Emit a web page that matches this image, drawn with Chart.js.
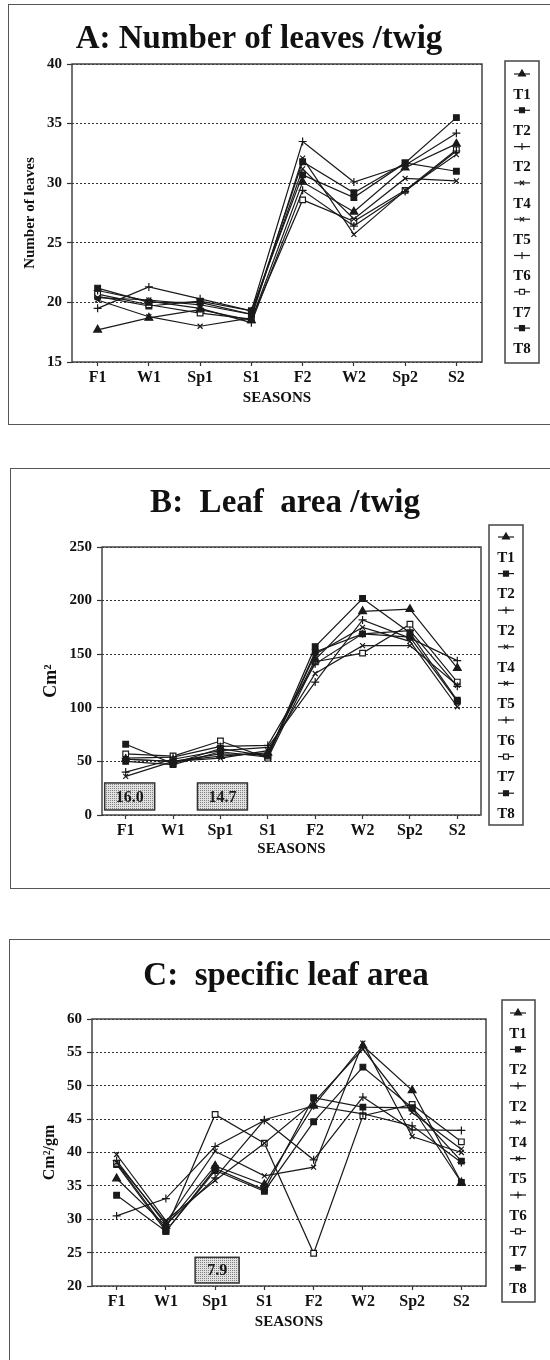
<!DOCTYPE html>
<html>
<head>
<meta charset="utf-8">
<script src="https://cdn.jsdelivr.net/npm/chart.js"></script>
<style>
  html, body { margin: 0; padding: 0; background: #fff; overflow: hidden; }
  body { width: 550px; height: 1360px; position: relative; }
  canvas { position: absolute; left: 0; }
  .frame { position: absolute; border: 1.5px solid #555; }
</style>
</head>
<body>
<div class="frame" style="left:8px; top:4px; width:620px; height:419px;"></div>
<div class="frame" style="left:10px; top:468px; width:620px; height:419px;"></div>
<div class="frame" style="left:9px; top:939px; width:620px; height:500px;"></div>
<canvas id="chartA" width="550" height="440" style="top:0px"></canvas>
<canvas id="chartB" width="550" height="460" style="top:440px"></canvas>
<canvas id="chartC" width="550" height="460" style="top:900px"></canvas>
<script>
// seasons and treatment labels (legend repeats T2, as in the figure)
const seasons = ['F1', 'W1', 'Sp1', 'S1', 'F2', 'W2', 'Sp2', 'S2'];
const treatments = ['T1', 'T2', 'T2', 'T4', 'T5', 'T6', 'T7', 'T8'];

// A: number of leaves per twig, one row per treatment
const leafCount = [
  [17.7, 18.7, 19.4, 18.5, 30.1, 27.6, 31.3, 33.3],
  [21.2, 20.0, 20.0, 19.0, 31.8, 29.2, 31.7, 35.5],
  [19.5, 21.3, 20.3, 19.3, 33.5, 30.1, 31.5, 34.2],
  [20.2, 18.8, 18.0, 18.7, 32.1, 25.7, 29.4, 32.4],
  [20.4, 20.2, 19.8, 19.0, 31.2, 27.0, 30.4, 30.2],
  [21.0, 20.1, 19.5, 18.3, 29.4, 26.4, 29.3, 32.7],
  [20.7, 19.8, 19.1, 18.6, 28.6, 26.8, 29.4, 32.8],
  [20.5, 19.7, 20.1, 19.3, 30.7, 28.8, 31.7, 31.0]
];

// B: leaf area per twig (cm2)
const leafArea = [
  [52, 50, 55, 58, 145, 190, 192, 137],
  [66, 48, 62, 55, 157, 202, 170, 107],
  [40, 52, 60, 63, 124, 182, 165, 144],
  [36, 50, 53, 60, 132, 158, 158, 121],
  [52, 50, 57, 56, 150, 175, 162, 101],
  [53, 54, 64, 65, 141, 169, 172, 120],
  [57, 55, 69, 53, 143, 151, 178, 124],
  [50, 47, 59, 54, 152, 169, 166, 106]
];

// C: specific leaf area (cm2/gm)
const sla = [
  [36.1, 29.0, 38.0, 35.2, 47.0, 56.0, 49.3, 35.5],
  [33.6, 28.2, 37.3, 34.2, 44.6, 52.8, 46.7, 38.7],
  [30.5, 33.1, 40.9, 44.8, 38.9, 48.3, 43.4, 43.3],
  [39.7, 29.8, 35.8, 41.4, 47.5, 55.5, 46.0, 40.5],
  [38.5, 29.5, 40.2, 36.5, 37.8, 56.4, 42.4, 40.0],
  [38.8, 29.2, 36.2, 44.9, 47.0, 45.8, 44.0, 38.5],
  [38.4, 28.5, 45.7, 41.4, 24.9, 45.5, 47.2, 41.6],
  [38.2, 28.2, 37.6, 34.4, 48.2, 46.8, 46.7, 35.5]
];

// LSD labels in the boxes
const lsdArea = ['16.0', '14.7'];
const lsdSla = ['7.9'];

const SERIF = '"Liberation Serif", "Times New Roman", serif';
const INK = '#1a1a1a';

const markers = [
  { style: 'triangle', r: 4.5, fill: INK },
  { style: 'rect', r: 4, fill: INK },
  { style: 'cross', r: 4, fill: INK },
  { style: 'crossRot', r: 3.5, fill: INK },
  { style: 'crossRot', r: 3.5, fill: INK },
  { style: 'cross', r: 4, fill: INK },
  { style: 'rect', r: 4, fill: '#fff' },
  { style: 'rect', r: 4, fill: INK }
];

function stipple(ctx) {
  const c = document.createElement('canvas');
  c.width = 2; c.height = 2;
  const p = c.getContext('2d');
  p.fillStyle = '#e2e2e2';
  p.fillRect(0, 0, 2, 2);
  p.fillStyle = '#808080';
  p.fillRect(0, 0, 1, 1);
  return ctx.createPattern(c, 'repeat');
}

function drawMarker(ctx, m, x, y) {
  ctx.save();
  ctx.fillStyle = m.fill;
  ctx.strokeStyle = INK;
  ctx.lineWidth = 1.2;
  if (Chart.helpers && Chart.helpers.drawPoint) {
    Chart.helpers.drawPoint(ctx, { pointStyle: m.style, radius: m.r - 0.5, rotation: 0, borderWidth: 1.2 }, x, y);
  } else {
    ctx.beginPath();
    ctx.rect(x - m.r, y - m.r, m.r * 2, m.r * 2);
    ctx.fill(); ctx.stroke();
  }
  ctx.restore();
}

// draws plot frame, LSD boxes, the big title and the boxed legend
const panelPlugin = {
  id: 'panel',
  afterDatasetsDraw(chart, args, o) {
    const ctx = chart.ctx;
    const ca = chart.chartArea;
    const xs = chart.scales.x, ys = chart.scales.y;
    ctx.save();
    ctx.strokeStyle = '#444';
    ctx.lineWidth = 1.5;
    ctx.strokeRect(ca.left, ca.top, ca.right - ca.left, ca.bottom - ca.top);

    (o.notes || []).forEach(n => {
      const cx = xs.getPixelForValue(n.at) + n.shift;
      const y1 = ys.getPixelForValue(n.to), y2 = ys.getPixelForValue(n.from);
      ctx.fillStyle = stipple(ctx);
      ctx.fillRect(cx - n.w / 2, y1, n.w, y2 - y1);
      ctx.strokeStyle = '#333';
      ctx.lineWidth = 1.5;
      ctx.strokeRect(cx - n.w / 2, y1, n.w, y2 - y1);
      ctx.fillStyle = INK;
      ctx.font = 'bold 16px ' + SERIF;
      ctx.textAlign = 'center';
      ctx.textBaseline = 'middle';
      ctx.fillText(n.text, cx, (y1 + y2) / 2 + 1);
    });
    ctx.restore();
  },
  afterDraw(chart, args, o) {
    const ctx = chart.ctx;
    ctx.save();
    ctx.fillStyle = '#111';
    ctx.font = 'bold 33px ' + SERIF;
    ctx.textAlign = 'center';
    ctx.textBaseline = 'alphabetic';
    ctx.fillText(o.title, o.titleX, o.titleY);

    const lb = o.legend;
    ctx.strokeStyle = '#444';
    ctx.lineWidth = 1.5;
    ctx.strokeRect(lb.x1, lb.y1, lb.x2 - lb.x1, lb.y2 - lb.y1);
    ctx.font = 'bold 15px ' + SERIF;
    ctx.textBaseline = 'middle';
    chart.data.datasets.forEach((ds, i) => {
      const y = lb.y0 + i * lb.step;
      ctx.strokeStyle = INK;
      ctx.lineWidth = 1.2;
      ctx.beginPath();
      ctx.moveTo(lb.cx - 8, y);
      ctx.lineTo(lb.cx + 8, y);
      ctx.stroke();
      drawMarker(ctx, markers[i], lb.cx, y);
      ctx.fillStyle = '#111';
      ctx.fillText(ds.label, lb.cx, y + 21);
    });
    ctx.restore();
  }
};

function makeDatasets(rows) {
  return rows.map((vals, i) => ({
    label: treatments[i],
    data: vals,
    borderColor: INK,
    borderWidth: 1.2,
    tension: 0,
    pointStyle: markers[i].style,
    pointRadius: markers[i].r,
    pointBorderWidth: 1.2,
    pointBorderColor: INK,
    pointBackgroundColor: markers[i].fill
  }));
}

function makeChart(id, rows, cfg) {
  return new Chart(document.getElementById(id), {
    type: 'line',
    data: { labels: seasons, datasets: makeDatasets(rows) },
    plugins: [panelPlugin],
    options: {
      responsive: false,
      animation: false,
      layout: { padding: cfg.padding },
      plugins: {
        legend: { display: false },
        tooltip: { enabled: false },
        panel: cfg.panel
      },
      scales: {
        x: {
          offset: true,
          afterFit: s => { s.height = cfg.xHeight; },
          border: { display: false },
          grid: { drawOnChartArea: false, drawTicks: true, tickLength: 4, tickColor: '#333', tickWidth: 1.2 },
          ticks: { color: '#111', padding: 2, maxRotation: 0, font: { family: SERIF, size: 16, weight: 'bold' } },
          title: { display: true, text: 'SEASONS', color: '#111', padding: 0, font: { family: SERIF, size: 15, weight: 'bold' } }
        },
        y: {
          min: cfg.min, max: cfg.max,
          afterFit: s => { s.width = cfg.yWidth; },
          border: { display: false, dash: [2, 2] },
          grid: { color: '#333', lineWidth: 1, tickLength: 5, tickColor: '#333', tickWidth: 1.2 },
          ticks: { stepSize: cfg.step, color: '#111', padding: 5, font: { family: SERIF, size: 15, weight: 'bold' } },
          title: { display: true, text: cfg.yTitle, color: '#111', padding: 0, font: { family: SERIF, size: cfg.yTitleSize, weight: 'bold' } }
        }
      }
    }
  });
}

makeChart('chartA', leafCount, {
  min: 15, max: 40, step: 5,
  yTitle: 'Number of leaves', yTitleSize: 15,
  padding: { left: 21, top: 64, right: 68, bottom: 33 },
  yWidth: 51, xHeight: 45,
  panel: {
    title: 'A: Number of leaves /twig', titleX: 259, titleY: 48,
    legend: { x1: 505, y1: 61, x2: 539, y2: 363, cx: 522, y0: 74, step: 36.3 },
    notes: []
  }
});

makeChart('chartB', leafArea, {
  min: 0, max: 250, step: 50,
  yTitle: 'Cm²', yTitleSize: 18,
  padding: { left: 41, top: 107, right: 69, bottom: 42 },
  yWidth: 61, xHeight: 43,
  panel: {
    title: 'B:  Leaf  area /twig', titleX: 285, titleY: 72,
    legend: { x1: 489, y1: 85, x2: 523, y2: 385, cx: 506, y0: 97, step: 36.6 },
    notes: [
      { at: 0, shift: 4, from: 4.7, to: 29.9, w: 50, text: lsdArea[0] },
      { at: 2, shift: 2, from: 4.7, to: 29.9, w: 50, text: lsdArea[1] }
    ]
  }
});

makeChart('chartC', sla, {
  min: 20, max: 60, step: 5,
  yTitle: 'Cm²/gm', yTitleSize: 16,
  padding: { left: 40, top: 119, right: 64, bottom: 29 },
  yWidth: 52, xHeight: 45,
  panel: {
    title: 'C:  specific leaf area', titleX: 286, titleY: 85,
    legend: { x1: 502, y1: 100, x2: 535, y2: 402, cx: 518, y0: 113, step: 36.4 },
    notes: [
      { at: 2, shift: 2, from: 20.45, to: 24.3, w: 44, text: lsdSla[0] }
    ]
  }
});
</script>
</body>
</html>
